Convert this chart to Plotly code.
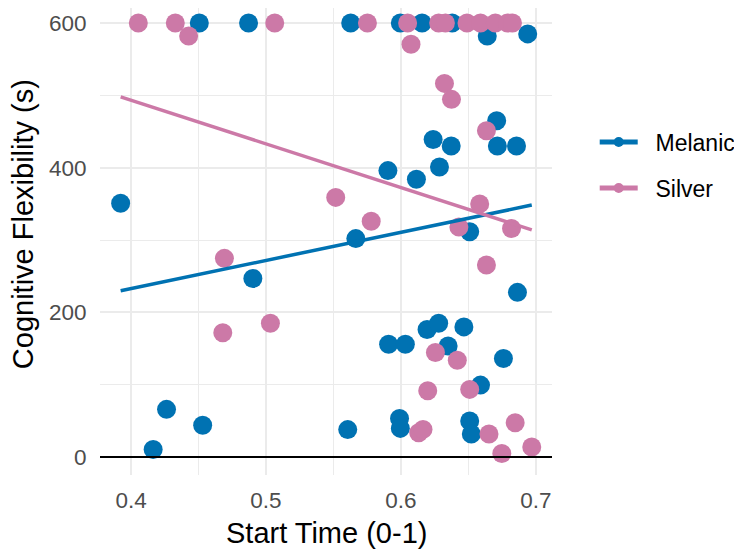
import plotly.graph_objects as go

# ---- data ----
melanic_x = [0.3923, 0.4164, 0.4263, 0.4506, 0.4531, 0.4871, 0.4903, 0.5606, 0.5628, 0.5666,
             0.5904, 0.5909, 0.5990, 0.5996, 0.5996, 0.6033, 0.6115, 0.6157, 0.6194, 0.6239,
             0.6280, 0.6286, 0.6350, 0.6373, 0.6380, 0.6467, 0.6510, 0.6510, 0.6522, 0.6590,
             0.6640, 0.6710, 0.6715, 0.6760, 0.6857, 0.6864, 0.6940]
melanic_y = [351, 10.6, 66, 600, 44, 600, 247, 38, 600, 302,
             396, 156, 53.5, 600, 39.7, 156, 384, 600, 176.5, 439,
             185, 401, 153.5, 430, 600, 180, 311.5, 50, 31.8, 99.5,
             582, 465, 430, 136.4, 430, 227.7, 585]

silver_x = [0.4054, 0.4328, 0.4427, 0.4680, 0.4692, 0.5033, 0.5065, 0.5517, 0.5752, 0.5780,
            0.6050, 0.6075, 0.6132, 0.6164, 0.6199, 0.6256, 0.6280, 0.6323, 0.6330, 0.6375,
            0.6418, 0.6430, 0.6490, 0.6510, 0.6584, 0.6590, 0.6634, 0.6634, 0.6653, 0.6700,
            0.6748, 0.6790, 0.6820, 0.6827, 0.6847, 0.6970]
silver_y = [600, 600, 582, 172, 274.7, 185, 600, 359, 600, 326,
            600, 570.6, 33.6, 38.3, 91.7, 144.7, 600, 516.6, 600, 494.5,
            134, 318, 600, 93.6, 350, 600, 451, 265.5, 31.8, 600,
            5, 600, 316, 600, 47.5, 14]

# fitted lines (end points)
melanic_fit_x = [0.3923, 0.6970]
melanic_fit_y = [230, 348.4]
silver_fit_x = [0.3923, 0.6970]
silver_fit_y = [498, 314]

colors = {"Melanic": "#0072B2", "Silver": "#CC79A7"}

x_ticks = [0.4, 0.5, 0.6, 0.7]
x_ticklabels = ["0.4", "0.5", "0.6", "0.7"]
y_ticks = [0, 200, 400, 600]
y_ticklabels = ["0", "200", "400", "600"]

FONT = "Liberation Sans, Arial, sans-serif"
NB = "\u00a0\u00a0"

fig = go.Figure()

fig.add_trace(go.Scatter(x=melanic_x, y=melanic_y, mode="markers",
                         marker=dict(color=colors["Melanic"], size=19, line=dict(width=0)),
                         showlegend=False, hoverinfo="skip"))
fig.add_trace(go.Scatter(x=silver_x, y=silver_y, mode="markers",
                         marker=dict(color=colors["Silver"], size=19, line=dict(width=0)),
                         showlegend=False, hoverinfo="skip"))
fig.add_trace(go.Scatter(x=melanic_fit_x, y=melanic_fit_y, mode="lines",
                         line=dict(color=colors["Melanic"], width=3.5),
                         showlegend=False, hoverinfo="skip"))
fig.add_trace(go.Scatter(x=silver_fit_x, y=silver_fit_y, mode="lines",
                         line=dict(color=colors["Silver"], width=3.5),
                         showlegend=False, hoverinfo="skip"))

# legend entries
fig.add_trace(go.Scatter(x=[None], y=[None], mode="lines+markers", name=NB + "Melanic",
                         line=dict(color=colors["Melanic"], width=5),
                         marker=dict(color=colors["Melanic"], size=10),
                         legend="legend"))
fig.add_trace(go.Scatter(x=[None], y=[None], mode="lines+markers", name=NB + "Silver",
                         line=dict(color=colors["Silver"], width=5),
                         marker=dict(color=colors["Silver"], size=10),
                         legend="legend2"))

fig.add_shape(type="line", xref="paper", yref="y", x0=0, x1=1, y0=0, y1=0,
              line=dict(color="black", width=2), layer="above")

fig.add_annotation(text="Start Time (0-1)", xref="paper", yref="paper", x=0.5, y=-0.1242,
                   xanchor="center", yanchor="middle", showarrow=False,
                   font=dict(size=29, color="black", family=FONT))
fig.add_annotation(text="Cognitive Flexibility (s)", xref="paper", yref="paper", x=-0.170, y=0.5375,
                   xanchor="center", yanchor="middle", showarrow=False, textangle=-90,
                   font=dict(size=29, color="black", family=FONT))

grid = "#ebebeb"
# the page body has an 8px margin, so the figure is sized to fit the remaining window
fig.update_layout(
    width=734, height=544,
    margin=dict(l=92, r=190, t=0, b=77, pad=0),
    paper_bgcolor="white", plot_bgcolor="white",
    font=dict(family=FONT, color="black"),
    xaxis=dict(range=[0.377, 0.712], tickvals=x_ticks, ticktext=x_ticklabels, automargin=False,
               showgrid=True, gridcolor=grid, gridwidth=1.6, zeroline=False,
               showline=False, ticks="outside", ticklen=4.5, tickcolor="rgba(0,0,0,0)",
               tickfont=dict(size=22.5, color="#4d4d4d", family=FONT),
               minor=dict(tickvals=[0.45, 0.55, 0.65], showgrid=True, gridcolor=grid, gridwidth=1)),
    yaxis=dict(range=[-24.75, 620.8], tickvals=y_ticks, ticktext=y_ticklabels, automargin=False,
               showgrid=True, gridcolor=grid, gridwidth=1.6, zeroline=False,
               showline=False, ticks="outside", ticklen=8, tickcolor="rgba(0,0,0,0)",
               tickfont=dict(size=22.5, color="#4d4d4d", family=FONT),
               minor=dict(tickvals=[100, 300, 500], showgrid=True, gridcolor=grid, gridwidth=1)),
    legend=dict(x=1.0945, y=0.713, xanchor="left", yanchor="middle", itemwidth=38,
                font=dict(size=23, color="black", family=FONT), bgcolor="rgba(0,0,0,0)"),
    legend2=dict(x=1.0945, y=0.6146, xanchor="left", yanchor="middle", itemwidth=38,
                 font=dict(size=23, color="black", family=FONT), bgcolor="rgba(0,0,0,0)"),
)

fig.write_html("out.html")
